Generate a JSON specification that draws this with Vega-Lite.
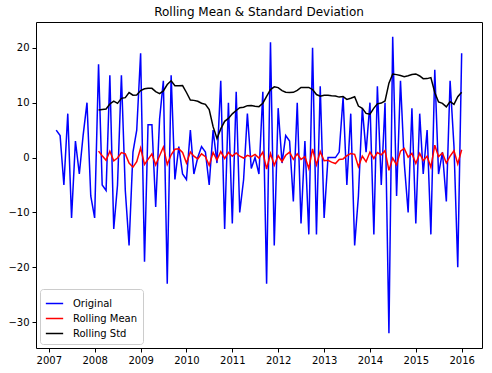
{
  "$schema": "https://vega.github.io/schema/vega-lite/v6.json",
  "width": 446,
  "height": 326,
  "autosize": {"type": "none"},
  "padding": {"left": 36, "top": 22, "right": 10, "bottom": 25},
  "background": "white",
  "config": {
    "font": "DejaVu Sans",
    "view": {"stroke": "black", "strokeWidth": 1},
    "axis": {"grid": false, "domain": false, "tickColor": "black", "tickSize": 4, "tickWidth": 1, "labelColor": "black", "labelFontSize": 10, "labelPadding": 3, "title": null}
  },
  "title": {"text": "Rolling Mean & Standard Deviation", "fontSize": 12, "fontWeight": "normal", "color": "black", "offset": 3},
  "data": {"values": [
    {"date": "2007-03-01T00:00:00", "value": 5},
    {"date": "2007-04-01T00:00:00", "value": 4},
    {"date": "2007-05-01T00:00:00", "value": -5},
    {"date": "2007-06-01T00:00:00", "value": 8},
    {"date": "2007-07-01T00:00:00", "value": -11},
    {"date": "2007-08-01T00:00:00", "value": 3},
    {"date": "2007-09-01T00:00:00", "value": -3},
    {"date": "2007-10-01T00:00:00", "value": 4},
    {"date": "2007-11-01T00:00:00", "value": 10},
    {"date": "2007-12-01T00:00:00", "value": -7},
    {"date": "2008-01-01T00:00:00", "value": -11},
    {"date": "2008-02-01T00:00:00", "value": 17},
    {"date": "2008-03-01T00:00:00", "value": -5},
    {"date": "2008-04-01T00:00:00", "value": -6},
    {"date": "2008-05-01T00:00:00", "value": 15},
    {"date": "2008-06-01T00:00:00", "value": -13},
    {"date": "2008-07-01T00:00:00", "value": -5},
    {"date": "2008-08-01T00:00:00", "value": 15},
    {"date": "2008-09-01T00:00:00", "value": -6},
    {"date": "2008-10-01T00:00:00", "value": -16},
    {"date": "2008-11-01T00:00:00", "value": 1},
    {"date": "2008-12-01T00:00:00", "value": 5},
    {"date": "2009-01-01T00:00:00", "value": 19},
    {"date": "2009-02-01T00:00:00", "value": -19},
    {"date": "2009-03-01T00:00:00", "value": 6},
    {"date": "2009-04-01T00:00:00", "value": 6},
    {"date": "2009-05-01T00:00:00", "value": -9},
    {"date": "2009-06-01T00:00:00", "value": 7},
    {"date": "2009-07-01T00:00:00", "value": 14},
    {"date": "2009-08-01T00:00:00", "value": -23},
    {"date": "2009-09-01T00:00:00", "value": 15},
    {"date": "2009-10-01T00:00:00", "value": -4},
    {"date": "2009-11-01T00:00:00", "value": 2},
    {"date": "2009-12-01T00:00:00", "value": -3},
    {"date": "2010-01-01T00:00:00", "value": -4},
    {"date": "2010-02-01T00:00:00", "value": 5},
    {"date": "2010-03-01T00:00:00", "value": -3},
    {"date": "2010-04-01T00:00:00", "value": 0},
    {"date": "2010-05-01T00:00:00", "value": 2},
    {"date": "2010-06-01T00:00:00", "value": 1},
    {"date": "2010-07-01T00:00:00", "value": -5},
    {"date": "2010-08-01T00:00:00", "value": 5},
    {"date": "2010-09-01T00:00:00", "value": -1},
    {"date": "2010-10-01T00:00:00", "value": 14},
    {"date": "2010-11-01T00:00:00", "value": -13},
    {"date": "2010-12-01T00:00:00", "value": 10},
    {"date": "2011-01-01T00:00:00", "value": -12},
    {"date": "2011-02-01T00:00:00", "value": 12},
    {"date": "2011-03-01T00:00:00", "value": -10},
    {"date": "2011-04-01T00:00:00", "value": -4},
    {"date": "2011-05-01T00:00:00", "value": 8},
    {"date": "2011-06-01T00:00:00", "value": -2},
    {"date": "2011-07-01T00:00:00", "value": 0},
    {"date": "2011-08-01T00:00:00", "value": -3},
    {"date": "2011-09-01T00:00:00", "value": 12},
    {"date": "2011-10-01T00:00:00", "value": -23},
    {"date": "2011-11-01T00:00:00", "value": 21},
    {"date": "2011-12-01T00:00:00", "value": -16},
    {"date": "2012-01-01T00:00:00", "value": 9},
    {"date": "2012-02-01T00:00:00", "value": -1},
    {"date": "2012-03-01T00:00:00", "value": 4},
    {"date": "2012-04-01T00:00:00", "value": 3},
    {"date": "2012-05-01T00:00:00", "value": -8},
    {"date": "2012-06-01T00:00:00", "value": 10},
    {"date": "2012-07-01T00:00:00", "value": -12},
    {"date": "2012-08-01T00:00:00", "value": 3},
    {"date": "2012-09-01T00:00:00", "value": -14},
    {"date": "2012-10-01T00:00:00", "value": 20},
    {"date": "2012-11-01T00:00:00", "value": -14},
    {"date": "2012-12-01T00:00:00", "value": 13},
    {"date": "2013-01-01T00:00:00", "value": -11},
    {"date": "2013-02-01T00:00:00", "value": 0},
    {"date": "2013-03-01T00:00:00", "value": 0},
    {"date": "2013-04-01T00:00:00", "value": 0},
    {"date": "2013-05-01T00:00:00", "value": 1},
    {"date": "2013-06-01T00:00:00", "value": 11},
    {"date": "2013-07-01T00:00:00", "value": -5},
    {"date": "2013-08-01T00:00:00", "value": 8},
    {"date": "2013-09-01T00:00:00", "value": -16},
    {"date": "2013-10-01T00:00:00", "value": -7},
    {"date": "2013-11-01T00:00:00", "value": 9},
    {"date": "2013-12-01T00:00:00", "value": 1},
    {"date": "2014-01-01T00:00:00", "value": 10},
    {"date": "2014-02-01T00:00:00", "value": -14},
    {"date": "2014-03-01T00:00:00", "value": 13},
    {"date": "2014-04-01T00:00:00", "value": -5},
    {"date": "2014-05-01T00:00:00", "value": 10},
    {"date": "2014-06-01T00:00:00", "value": -32},
    {"date": "2014-07-01T00:00:00", "value": 22},
    {"date": "2014-08-01T00:00:00", "value": -7},
    {"date": "2014-09-01T00:00:00", "value": 14},
    {"date": "2014-10-01T00:00:00", "value": -1},
    {"date": "2014-11-01T00:00:00", "value": -10},
    {"date": "2014-12-01T00:00:00", "value": 9},
    {"date": "2015-01-01T00:00:00", "value": -12},
    {"date": "2015-02-01T00:00:00", "value": 8},
    {"date": "2015-03-01T00:00:00", "value": -3},
    {"date": "2015-04-01T00:00:00", "value": 5},
    {"date": "2015-05-01T00:00:00", "value": -14},
    {"date": "2015-06-01T00:00:00", "value": 16},
    {"date": "2015-07-01T00:00:00", "value": -3},
    {"date": "2015-08-01T00:00:00", "value": 1},
    {"date": "2015-09-01T00:00:00", "value": -8},
    {"date": "2015-10-01T00:00:00", "value": 14},
    {"date": "2015-11-01T00:00:00", "value": 2},
    {"date": "2015-12-01T00:00:00", "value": -20},
    {"date": "2016-01-01T00:00:00", "value": 19}
  ]},
  "encoding": {
    "x": {"field": "date", "type": "temporal",
      "scale": {"domain": [{"year": 2006, "month": 9, "date": 21}, {"year": 2016, "month": 6, "date": 11}]},
      "axis": {"format": "%Y", "tickCount": {"interval": "year", "step": 1}, "labelFlush": false, "labelOverlap": false}},
    "color": {"scale": {"domain": ["Original", "Rolling Mean", "Rolling Std"], "range": ["#0000ff", "#ff0000", "#000000"]},
      "legend": {"title": null, "orient": "bottom-left", "offset": 4, "symbolType": "stroke", "symbolSize": 300, "symbolStrokeWidth": 1.5, "labelFontSize": 10, "labelColor": "black", "fillColor": "white", "strokeColor": "#cccccc", "cornerRadius": 3, "padding": 5, "rowPadding": 0, "labelOffset": 9}}
  },
  "layer": [
    {
      "mark": {"type": "line", "strokeWidth": 1.5},
      "encoding": {
        "y": {"field": "value", "type": "quantitative", "scale": {"domain": [-34.7, 24.7], "nice": false, "zero": false}, "axis": {"values": [-30, -20, -10, 0, 10, 20]}},
        "color": {"datum": "Original"}
      }
    },
    {
      "transform": [
        {"window": [{"op": "mean", "field": "value", "as": "rmean"}, {"op": "count", "as": "n"}], "sort": [{"field": "date"}], "frame": [-11, 0]},
        {"filter": "datum.n == 12"}
      ],
      "mark": {"type": "line", "strokeWidth": 1.5},
      "encoding": {
        "y": {"field": "rmean", "type": "quantitative"},
        "color": {"datum": "Rolling Mean"}
      }
    },
    {
      "transform": [
        {"window": [{"op": "stdev", "field": "value", "as": "rstd"}, {"op": "count", "as": "n"}], "sort": [{"field": "date"}], "frame": [-11, 0]},
        {"filter": "datum.n == 12"}
      ],
      "mark": {"type": "line", "strokeWidth": 1.5},
      "encoding": {
        "y": {"field": "rstd", "type": "quantitative"},
        "color": {"datum": "Rolling Std"}
      }
    }
  ]
}
